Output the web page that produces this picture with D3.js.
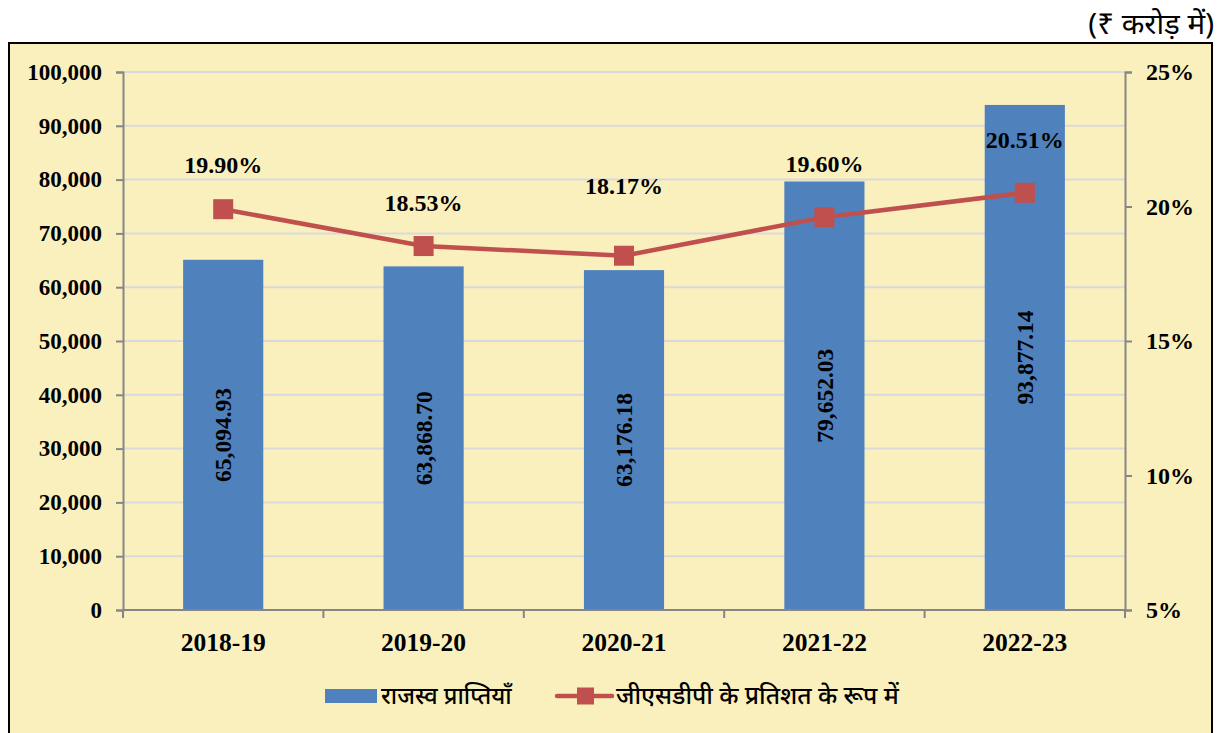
<!DOCTYPE html>
<html>
<head>
<meta charset="utf-8">
<script src="https://cdn.jsdelivr.net/npm/d3@7"></script>
<style>
  body { margin: 0; background: #fff; }
  svg { display: block; }
</style>
</head>
<body>
<svg id="chart" width="1229" height="733"></svg>
<script>
// chart data
let years = ['2018-19', '2019-20', '2020-21', '2021-22', '2022-23'];
let receipts = [65094.93, 63868.70, 63176.18, 79652.03, 93877.14];
let gsdpShare = [19.90, 18.53, 18.17, 19.60, 20.51];
let leftTicks = [0, 10000, 20000, 30000, 40000, 50000, 60000, 70000, 80000, 90000, 100000];
let rightTicks = [5, 10, 15, 20, 25];
let legendLabels = ['राजस्व प्राप्तियाँ', 'जीएसडीपी के प्रतिशत के रूप में'];
let unitLabel = '(₹ करोड़ में)';

// label nudges (layout only), pixels above each marker
let labelLift = [36, 35, 62, 45, 45];

let serif = '"Liberation Serif", "Times New Roman", serif';
let sans = '"Noto Sans", "Liberation Sans", Arial, sans-serif';

let svg = d3.select('#chart');

// frame
svg.append('rect')
    .attr('x', 9).attr('y', 43)
    .attr('width', 1203).attr('height', 700)
    .attr('fill', '#FAF0BE')
    .attr('stroke', '#000')
    .attr('stroke-width', 2);

svg.append('text')
    .attr('x', 1214).attr('y', 34)
    .attr('text-anchor', 'end')
    .style('font-family', sans)
    .style('font-size', '29.5px')
    .text(unitLabel);

let plot = { left: 123, right: 1125, top: 72, bottom: 610 };

let x = d3.scaleBand()
    .domain(years)
    .range([plot.left, plot.right])
    .paddingInner(0.6)
    .paddingOuter(0.3);

let xBand = d3.scaleBand()
    .domain(years)
    .range([plot.left, plot.right]);

let y = d3.scaleLinear()
    .domain([0, 100000])
    .range([plot.bottom, plot.top]);

let y2 = d3.scaleLinear()
    .domain([5, 25])
    .range([plot.bottom, plot.top]);

// gridlines
svg.append('g')
  .selectAll('line')
  .data(leftTicks.slice(1))
  .enter().append('line')
    .attr('x1', plot.left).attr('x2', plot.right)
    .attr('y1', d => y(d)).attr('y2', d => y(d))
    .attr('stroke', '#D9D9D9')
    .attr('stroke-width', 2);

// bars
svg.append('g')
  .selectAll('rect')
  .data(years)
  .enter().append('rect')
    .attr('x', d => x(d))
    .attr('width', x.bandwidth())
    .attr('y', (d, i) => y(receipts[i]))
    .attr('height', (d, i) => plot.bottom - y(receipts[i]))
    .attr('fill', '#4F81BD');

// bar labels
svg.append('g')
  .selectAll('text')
  .data(years)
  .enter().append('text')
    .attr('transform', (d, i) => {
      let cx = x(d) + x.bandwidth() / 2;
      let cy = (y(receipts[i]) + plot.bottom) / 2;
      return `translate(${cx},${cy}) rotate(-90)`;
    })
    .attr('text-anchor', 'middle')
    .attr('dy', '0.35em')
    .style('font-family', serif)
    .style('font-weight', 'bold')
    .style('font-size', '23.5px')
    .text((d, i) => d3.format(',.2f')(receipts[i]));

// axes
let axisStyle = function(g) {
  g.selectAll('path, line').attr('stroke', '#868686').attr('stroke-width', 2);
  g.selectAll('text')
    .style('font-family', serif)
    .style('font-weight', 'bold')
    .style('font-size', '23px')
    .attr('fill', '#000');
};

svg.append('g')
    .attr('transform', `translate(${plot.left},0)`)
    .call(d3.axisLeft(y).tickValues(leftTicks).tickFormat(d3.format(',')).tickSizeInner(7).tickSizeOuter(7).tickPadding(14))
    .call(axisStyle);

svg.append('g')
    .attr('transform', `translate(${plot.right},0)`)
    .call(d3.axisRight(y2).tickValues(rightTicks).tickFormat(d => d + '%').tickSizeInner(7).tickSizeOuter(7).tickPadding(14))
    .call(axisStyle)
    .call(g => g.selectAll('text').style('font-size', '24px'));

let xAxis = svg.append('g')
    .attr('transform', `translate(0,${plot.bottom})`);
xAxis.append('line')
    .attr('x1', plot.left).attr('x2', plot.right)
    .attr('stroke', '#868686').attr('stroke-width', 2);
xAxis.selectAll('.tick')
  .data(years.concat(['end']))
  .enter().append('line')
    .attr('x1', (d, i) => plot.left + i * xBand.bandwidth())
    .attr('x2', (d, i) => plot.left + i * xBand.bandwidth())
    .attr('y1', 0).attr('y2', 8)
    .attr('stroke', '#868686').attr('stroke-width', 2);
xAxis.selectAll('text')
  .data(years)
  .enter().append('text')
    .attr('x', d => xBand(d) + xBand.bandwidth() / 2)
    .attr('y', 41)
    .attr('text-anchor', 'middle')
    .style('font-family', serif)
    .style('font-weight', 'bold')
    .style('font-size', '25.5px')
    .text(d => d);

// line series
let cx = d => xBand(d) + xBand.bandwidth() / 2;
let line = d3.line()
    .x(d => cx(d))
    .y((d, i) => y2(gsdpShare[i]));

svg.append('path')
    .datum(years)
    .attr('d', line)
    .attr('fill', 'none')
    .attr('stroke', '#C0504D')
    .attr('stroke-width', 4.5);

svg.append('g')
  .selectAll('rect')
  .data(years)
  .enter().append('rect')
    .attr('x', d => cx(d) - 10)
    .attr('y', (d, i) => y2(gsdpShare[i]) - 10)
    .attr('width', 20).attr('height', 20)
    .attr('fill', '#C0504D');

svg.append('g')
  .selectAll('text')
  .data(years)
  .enter().append('text')
    .attr('x', d => cx(d))
    .attr('y', (d, i) => y2(gsdpShare[i]) - labelLift[i])
    .attr('text-anchor', 'middle')
    .style('font-family', serif)
    .style('font-weight', 'bold')
    .style('font-size', '24px')
    .text((d, i) => gsdpShare[i].toFixed(2) + '%');

// legend
let legend = svg.append('g').attr('transform', 'translate(0,696)');
legend.append('rect')
    .attr('x', 325).attr('y', -7)
    .attr('width', 52).attr('height', 14)
    .attr('fill', '#4F81BD');
legend.append('text')
    .attr('x', 381).attr('y', 8)
    .style('font-family', sans)
    .style('font-size', '23.5px')
    .style('font-weight', '500')
    .text(legendLabels[0]);
legend.append('line')
    .attr('x1', 557).attr('x2', 612)
    .attr('stroke', '#C0504D').attr('stroke-width', 4.5)
    .attr('stroke-linecap', 'round');
legend.append('rect')
    .attr('x', 577).attr('y', -8.5)
    .attr('width', 17).attr('height', 17)
    .attr('fill', '#C0504D');
legend.append('text')
    .attr('x', 616).attr('y', 8)
    .style('font-family', sans)
    .style('font-size', '24.5px')
    .style('font-weight', '500')
    .text(legendLabels[1]);
</script>
</body>
</html>
